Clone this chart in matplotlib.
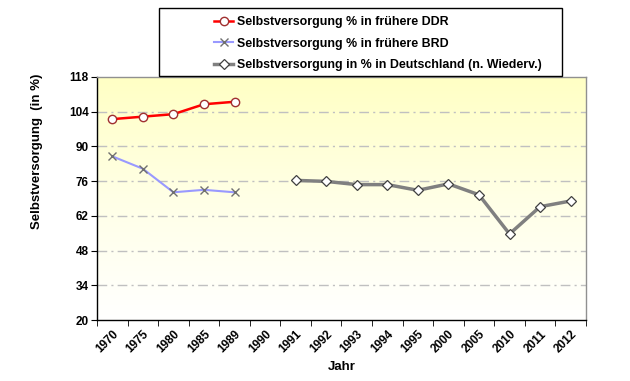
import numpy as np
import matplotlib
matplotlib.use('Agg')
import matplotlib.pyplot as plt
from matplotlib.colors import LinearSegmentedColormap
from matplotlib.patches import Rectangle

plt.rcParams['font.family'] = ['Liberation Sans', 'DejaVu Sans']

YEARS = ['1970', '1975', '1980', '1985', '1989', '1990', '1991', '1992',
         '1993', '1994', '1995', '2000', '2005', '2010', '2011', '2012']

DDR_YEARS = ['1970', '1975', '1980', '1985', '1989']
DDR_VALS = [101, 102, 103, 107, 108]

BRD_YEARS = ['1970', '1975', '1980', '1985', '1989']
BRD_VALS = [86, 81, 71.5, 72.5, 71.5]

DE_YEARS = ['1991', '1992', '1993', '1994', '1995', '2000', '2005', '2010', '2011', '2012']
DE_VALS = [76.3, 75.9, 74.6, 74.6, 72.3, 74.9, 70.5, 54.7, 65.7, 68.0]

YTICKS = [20, 34, 48, 62, 76, 90, 104, 118]

fig = plt.figure(figsize=(6.3, 3.81), dpi=100)
ax = fig.add_axes([0.154, 0.160, 0.776, 0.638])

# yellow-to-white background gradient
grad = np.linspace(0, 1, 256).reshape(-1, 1)
cmap = LinearSegmentedColormap.from_list('bg', ['#ffffff', '#ffffe6', '#ffffc4'])
ax.imshow(grad, extent=[0, 1, 0, 1], transform=ax.transAxes, aspect='auto',
          cmap=cmap, origin='lower', zorder=0)

idx = {y: i for i, y in enumerate(YEARS)}
xd = [idx[y] for y in DDR_YEARS]
xb = [idx[y] for y in BRD_YEARS]
xg = [idx[y] for y in DE_YEARS]

l1, = ax.plot(xd, DDR_VALS, color='#ff0000', lw=1.8, marker='o', ms=6,
              mfc='white', mec='#a03030', mew=1.0, zorder=3,
              label='Selbstversorgung % in frühere DDR')
l2, = ax.plot(xb, BRD_VALS, color='#9999ff', lw=1.5, marker='x', ms=6,
              mec='#707070', mew=1.0, zorder=3,
              label='Selbstversorgung % in frühere BRD')
l3, = ax.plot(xg, DE_VALS, color='#808080', lw=2.5, marker='D', ms=5,
              mfc='white', mec='#404040', mew=0.9, zorder=3,
              label='Selbstversorgung in % in Deutschland (n. Wiederv.)')

ax.set_xlim(-0.5, len(YEARS) - 0.5)
ax.set_ylim(20, 118)
ax.set_yticks(YTICKS)
ax.set_yticklabels([str(t) for t in YTICKS], fontsize=8.5, fontweight='bold')
ax.set_xticks(np.arange(len(YEARS)))
ax.set_xticklabels(YEARS, rotation=45, ha='right', va='top', fontsize=8.5,
                   fontweight='bold', rotation_mode='anchor')
ax.set_xticks(np.arange(len(YEARS) + 1) - 0.5, minor=True)
ax.tick_params(axis='x', which='major', length=0, pad=6)
ax.tick_params(axis='x', which='minor', length=4, direction='out')
ax.tick_params(axis='y', length=4, direction='out', pad=2)

for t in YTICKS[1:-1]:
    ax.axhline(t, color='#c0c0c0', lw=1.0, ls=(0, (7, 3, 1.5, 3)), zorder=1)

for s in ['left', 'bottom']:
    ax.spines[s].set_color('black')
    ax.spines[s].set_linewidth(1.0)
for s in ['top', 'right']:
    ax.spines[s].set_color('#909090')
    ax.spines[s].set_linewidth(1.0)

ax.set_xlabel('Jahr', fontsize=9.5, fontweight='bold', labelpad=4)
ax.set_ylabel('Selbstversorgung  (in %)', fontsize=9.5, fontweight='bold')
ax.yaxis.set_label_coords(-0.110, 0.695)

# legend box
fig.patches.append(Rectangle((159 / 630, 1 - 76 / 381), (562 - 159) / 630, (76 - 8) / 381,
                             transform=fig.transFigure, fill=True, facecolor='white',
                             edgecolor='black', lw=1.0, zorder=0))
leg = fig.legend(handles=[l1, l2, l3], loc='upper left',
                 bbox_to_anchor=(209 / 630, 1 - 11 / 381), frameon=False,
                 prop={'size': 8.9, 'weight': 'bold'}, handlelength=1.55,
                 handletextpad=0.3, labelspacing=0.78, borderaxespad=0)

fig.savefig('out.png', dpi=100)
